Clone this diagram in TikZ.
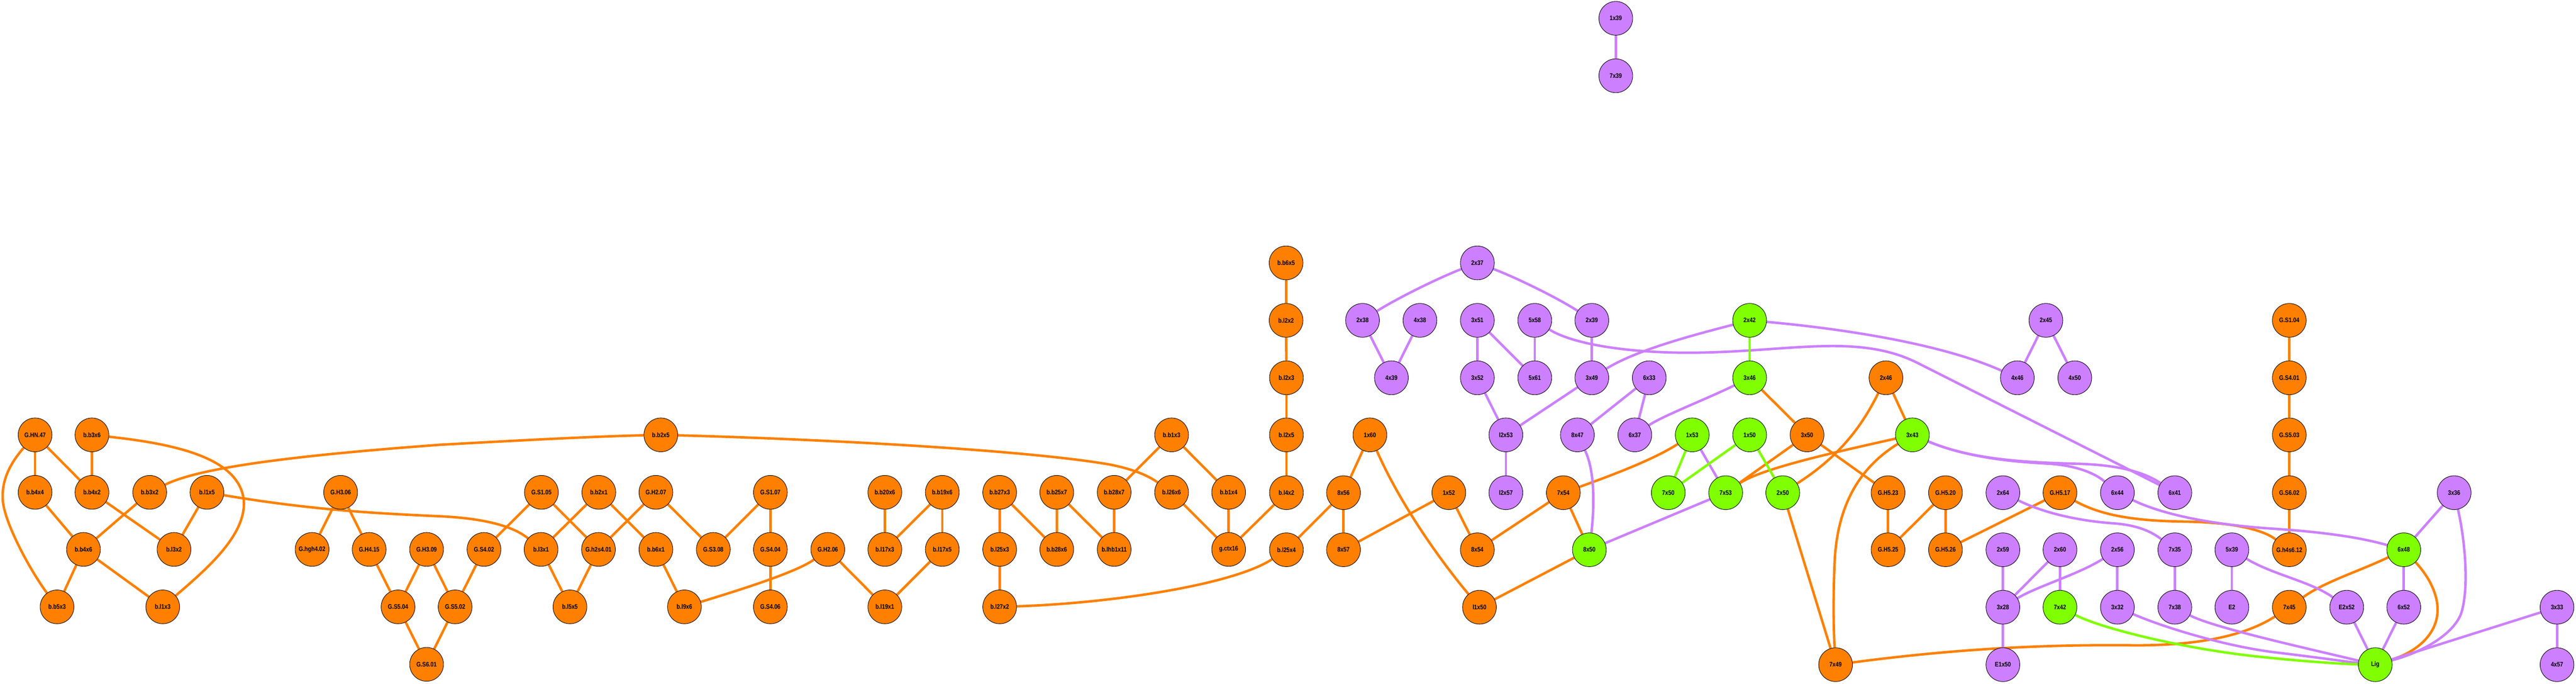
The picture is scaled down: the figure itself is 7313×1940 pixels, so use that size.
\documentclass[tikz,border=0pt]{standalone}
\usepackage{fontspec}
\setmainfont{Liberation Sans}
\usepackage{graphicx}
\usetikzlibrary{backgrounds}
\definecolor{cOr}{RGB}{255,128,0}
\definecolor{cPu}{RGB}{204,128,255}
\definecolor{cGr}{RGB}{128,255,0}
\newcommand{\lb}[1]{\scalebox{0.845}[1]{#1}}
\begin{document}
\begin{tikzpicture}[x=1pt,y=-1pt,
 nd/.style={circle,draw=black,line width=1.3pt,minimum size=96pt,inner sep=0pt,font=\fontsize{18.5}{20}\selectfont\bfseries},
 on/.style={nd,fill=cOr}, pn/.style={nd,fill=cPu}, gn/.style={nd,fill=cGr},
 oe/.style={draw=cOr,line width=7pt}, pe/.style={draw=cPu,line width=7pt}, ge/.style={draw=cGr,line width=7pt}]
\useasboundingbox (0,0) rectangle (7313,1940);
% ---------- orange nodes
\node[on] (GHN47) at (99.6,1234) {\lb{G.HN.47}};
\node[on] (bb3x6) at (261,1234) {\lb{b.b3x6}};
\node[on] (bb4x4) at (99.6,1397) {\lb{b.b4x4}};
\node[on] (bb4x2) at (261,1397) {\lb{b.b4x2}};
\node[on] (bb3x2) at (425,1397) {\lb{b.b3x2}};
\node[on] (bl1x5) at (587.5,1397) {\lb{b.l1x5}};
\node[on] (GH306) at (967,1397) {\lb{G.H3.06}};
\node[on] (bb4x6) at (237,1559) {\lb{b.b4x6}};
\node[on] (bl3x2) at (494,1559) {\lb{b.l3x2}};
\node[on] (Ghgh402) at (886,1559) {\lb{G.hgh4.02}};
\node[on] (GH415) at (1048,1559) {\lb{G.H4.15}};
\node[on] (GH309) at (1211,1559) {\lb{G.H3.09}};
\node[on] (bb5x3) at (162,1722) {\lb{b.b5x3}};
\node[on] (bl1x3) at (462,1722) {\lb{b.l1x3}};
\node[on] (GS504) at (1130,1722) {\lb{G.S5.04}};
\node[on] (GS601) at (1211,1885) {\lb{G.S6.01}};
\node[on] (bb2x5) at (1876,1234) {\lb{b.b2x5}};
\node[on] (GS105) at (1537,1397) {\lb{G.S1.05}};
\node[on] (bb2x1) at (1700,1397) {\lb{b.b2x1}};
\node[on] (GH207) at (1862,1397) {\lb{G.H2.07}};
\node[on] (GS107) at (2187,1397) {\lb{G.S1.07}};
\node[on] (GS402) at (1374,1559) {\lb{G.S4.02}};
\node[on] (bl3x1) at (1536,1559) {\lb{b.l3x1}};
\node[on] (Gh2s401) at (1699,1559) {\lb{G.h2s4.01}};
\node[on] (bb6x1) at (1862,1559) {\lb{b.b6x1}};
\node[on] (GS308) at (2025,1559) {\lb{G.S3.08}};
\node[on] (GS404) at (2187,1559) {\lb{G.S4.04}};
\node[on] (GH206) at (2350,1559) {\lb{G.H2.06}};
\node[on] (GS502) at (1292,1722) {\lb{G.S5.02}};
\node[on] (bl5x5) at (1618,1722) {\lb{b.l5x5}};
\node[on] (bl9x6) at (1943,1722) {\lb{b.l9x6}};
\node[on] (GS406) at (2187,1722) {\lb{G.S4.06}};
\node[on] (bb20x6) at (2512,1397) {\lb{b.b20x6}};
\node[on] (bb19x6) at (2675,1397) {\lb{b.b19x6}};
\node[on] (bb27x3) at (2838,1397) {\lb{b.b27x3}};
\node[on] (bb25x7) at (3000,1397) {\lb{b.b25x7}};
\node[on] (bb28x7) at (3163,1397) {\lb{b.b28x7}};
\node[on] (bl26x6) at (3326,1397) {\lb{b.l26x6}};
\node[on] (bb1x4) at (3488,1397) {\lb{b.b1x4}};
\node[on] (bb1x3) at (3326,1234) {\lb{b.b1x3}};
\node[on] (bl17x3) at (2512,1559) {\lb{b.l17x3}};
\node[on] (bl17x5) at (2675,1559) {\lb{b.l17x5}};
\node[on] (bl25x3) at (2838,1559) {\lb{b.l25x3}};
\node[on] (bb28x6) at (3000,1559) {\lb{b.b28x6}};
\node[on] (blhb1x11) at (3163,1559) {\lb{b.lhb1x11}};
\node[on] (gctx16) at (3488,1559) {\lb{g.ctx16}};
\node[on] (bl19x1) at (2512,1722) {\lb{b.l19x1}};
\node[on] (bl27x2) at (2838,1722) {\lb{b.l27x2}};
\node[on] (bb6x5) at (3651,746) {\lb{b.b6x5}};
\node[on] (bl2x2) at (3651,909) {\lb{b.l2x2}};
\node[on] (bl2x3) at (3652,1072) {\lb{b.l2x3}};
\node[on] (bl2x5) at (3652,1234) {\lb{b.l2x5}};
\node[on] (bl4x2) at (3652,1398) {\lb{b.l4x2}};
\node[on] (bl25x4) at (3652,1560) {\lb{b.l25x4}};
\node[on] (n1x60) at (3889,1234) {\lb{1x60}};
\node[on] (n8x56) at (3814,1398) {\lb{8x56}};
\node[on] (n1x52) at (4113,1398) {\lb{1x52}};
\node[on] (n7x54) at (4438,1398) {\lb{7x54}};
\node[on] (n8x57) at (3814,1560) {\lb{8x57}};
\node[on] (n8x54) at (4194,1560) {\lb{8x54}};
\node[on] (nl1x50) at (4200,1723) {\lb{l1x50}};
\node[on] (n2x46) at (5354,1072) {\lb{2x46}};
\node[on] (n3x50) at (5130,1234) {\lb{3x50}};
\node[on] (GH523) at (5360,1398) {\lb{G.H5.23}};
\node[on] (GH520) at (5523,1398) {\lb{G.H5.20}};
\node[on] (GH517) at (5848,1398) {\lb{G.H5.17}};
\node[on] (GH525) at (5360,1560) {\lb{G.H5.25}};
\node[on] (GH526) at (5523,1560) {\lb{G.H5.26}};
\node[on] (n7x49) at (5211,1886) {\lb{7x49}};
\node[on] (GS104) at (6499,909) {\lb{G.S1.04}};
\node[on] (GS401) at (6499,1072) {\lb{G.S4.01}};
\node[on] (GS503) at (6499,1234) {\lb{G.S5.03}};
\node[on] (GS602) at (6499,1398) {\lb{G.S6.02}};
\node[on] (Gh4s612) at (6499,1560) {\lb{G.h4s6.12}};
\node[on] (n7x45) at (6499,1723) {\lb{7x45}};
% ---------- purple nodes
\node[pn] (n1x39) at (4587,52) {\lb{1x39}};
\node[pn] (n7x39) at (4587,215) {\lb{7x39}};
\node[pn] (n2x37) at (4194,746) {\lb{2x37}};
\node[pn] (n2x38) at (3868,909) {\lb{2x38}};
\node[pn] (n4x38) at (4031,909) {\lb{4x38}};
\node[pn] (n3x51) at (4194,909) {\lb{3x51}};
\node[pn] (n5x58) at (4357,909) {\lb{5x58}};
\node[pn] (n2x39) at (4519,909) {\lb{2x39}};
\node[pn] (n2x45) at (5808,909) {\lb{2x45}};
\node[pn] (n4x39) at (3950,1072) {\lb{4x39}};
\node[pn] (n3x52) at (4194,1072) {\lb{3x52}};
\node[pn] (n5x61) at (4357,1072) {\lb{5x61}};
\node[pn] (n3x49) at (4519,1072) {\lb{3x49}};
\node[pn] (n6x33) at (4682,1072) {\lb{6x33}};
\node[pn] (n4x46) at (5727,1072) {\lb{4x46}};
\node[pn] (n4x50) at (5890,1072) {\lb{4x50}};
\node[pn] (nl2x53) at (4275,1234) {\lb{l2x53}};
\node[pn] (n8x47) at (4478,1234) {\lb{8x47}};
\node[pn] (n6x37) at (4641,1234) {\lb{6x37}};
\node[pn] (nl2x57) at (4275,1398) {\lb{l2x57}};
\node[pn] (n2x64) at (5686,1398) {\lb{2x64}};
\node[pn] (n6x44) at (6011,1398) {\lb{6x44}};
\node[pn] (n6x41) at (6174,1398) {\lb{6x41}};
\node[pn] (n3x36) at (6967,1398) {\lb{3x36}};
\node[pn] (n2x59) at (5686,1560) {\lb{2x59}};
\node[pn] (n2x60) at (5848,1560) {\lb{2x60}};
\node[pn] (n2x56) at (6011,1560) {\lb{2x56}};
\node[pn] (n7x35) at (6174,1560) {\lb{7x35}};
\node[pn] (n5x39) at (6336,1560) {\lb{5x39}};
\node[pn] (n3x28) at (5686,1723) {\lb{3x28}};
\node[pn] (n3x32) at (6011,1723) {\lb{3x32}};
\node[pn] (n7x38) at (6174,1723) {\lb{7x38}};
\node[pn] (nE2) at (6336,1723) {\lb{E2}};
\node[pn] (nE2x52) at (6662,1723) {\lb{E2x52}};
\node[pn] (n6x52) at (6824,1723) {\lb{6x52}};
\node[pn] (n3x33) at (7259,1723) {\lb{3x33}};
\node[pn] (nE1x50) at (5686,1886) {\lb{E1x50}};
\node[pn] (n4x57) at (7259,1886) {\lb{4x57}};
% ---------- green nodes
\node[gn] (n2x42) at (4967,909) {\lb{2x42}};
\node[gn] (n3x46) at (4967,1072) {\lb{3x46}};
\node[gn] (n1x53) at (4804,1234) {\lb{1x53}};
\node[gn] (n1x50) at (4967,1234) {\lb{1x50}};
\node[gn] (n3x43) at (5429,1234) {\lb{3x43}};
\node[gn] (n7x50) at (4736,1398) {\lb{7x50}};
\node[gn] (n7x53) at (4899,1398) {\lb{7x53}};
\node[gn] (n2x50) at (5061,1398) {\lb{2x50}};
\node[gn] (n8x50) at (4512,1560) {\lb{8x50}};
\node[gn] (n7x42) at (5848,1723) {\lb{7x42}};
\node[gn] (n6x48) at (6824,1560) {\lb{6x48}};
\node[gn] (Lig) at (6743,1886) {\lb{Lig}};
% ---------- edges
\begin{pgfonlayer}{background}
% orange
\draw[oe] (GHN47) -- (bb4x4);
\draw[oe] (GHN47) -- (bb4x2);
\draw[oe] (GHN47) .. controls (15,1330) and (5,1380) .. (8,1420) .. controls (12,1480) and (80,1610) .. (bb5x3);
\draw[oe] (bb3x6) -- (bb4x2);
\draw[oe] (bb3x6) .. controls (500,1260) and (680,1300) .. (692,1420) .. controls (700,1520) and (580,1620) .. (bl1x3);
\draw[oe] (bb4x4) -- (bb4x6);
\draw[oe] (bb4x2) -- (bl3x2);
\draw[oe] (bb3x2) -- (bb4x6);
\draw[oe] (bb3x2) .. controls (560,1330) and (800,1295) .. (1250,1262) .. controls (1500,1248) and (1700,1238) .. (bb2x5);
\draw[oe] (bl1x5) -- (bl3x2);
\draw[oe] (bl1x5) .. controls (900,1450) and (1100,1458) .. (1250,1465) .. controls (1380,1471) and (1460,1495) .. (bl3x1);
\draw[oe] (bb4x6) -- (bb5x3);
\draw[oe] (bb4x6) -- (bl1x3);
\draw[oe] (GH306) -- (Ghgh402);
\draw[oe] (GH306) -- (GH415);
\draw[oe] (GH415) -- (GS504);
\draw[oe] (GH309) -- (GS504);
\draw[oe] (GH309) -- (GS502);
\draw[oe] (GS504) -- (GS601);
\draw[oe] (GS502) -- (GS601);
\draw[oe] (GS402) -- (GS502);
\draw[oe] (GS105) -- (GS402);
\draw[oe] (GS105) -- (Gh2s401);
\draw[oe] (bb2x1) -- (bl3x1);
\draw[oe] (bb2x1) -- (bb6x1);
\draw[oe] (GH207) -- (Gh2s401);
\draw[oe] (GH207) -- (GS308);
\draw[oe] (GS107) -- (GS308);
\draw[oe] (GS107) -- (GS404);
\draw[oe] (GS404) -- (GS406);
\draw[oe] (bl3x1) -- (bl5x5);
\draw[oe] (Gh2s401) -- (bl5x5);
\draw[oe] (bb6x1) -- (bl9x6);
\draw[oe] (GH206) .. controls (2260,1625) and (2080,1680) .. (bl9x6);
\draw[oe] (GH206) -- (bl19x1);
\draw[oe] (bb2x5) .. controls (2300,1245) and (2900,1275) .. (3150,1318) .. controls (3220,1332) and (3260,1350) .. (bl26x6);
\draw[oe] (bb20x6) -- (bl17x3);
\draw[oe] (bb19x6) -- (bl17x3);
\draw[oe] (bb19x6) -- (bl17x5);
\draw[oe] (bl17x5) -- (bl19x1);
\draw[oe] (bb27x3) -- (bl25x3);
\draw[oe] (bb27x3) -- (bb28x6);
\draw[oe] (bb25x7) -- (bb28x6);
\draw[oe] (bb25x7) -- (blhb1x11);
\draw[oe] (bb28x7) -- (blhb1x11);
\draw[oe] (bb1x3) -- (bb28x7);
\draw[oe] (bb1x3) -- (bb1x4);
\draw[oe] (bl26x6) -- (gctx16);
\draw[oe] (bb1x4) -- (gctx16);
\draw[oe] (bl4x2) -- (gctx16);
\draw[oe] (bl25x3) -- (bl27x2);
\draw[oe] (bl27x2) .. controls (3150,1712) and (3500,1660) .. (bl25x4);
\draw[oe] (bb6x5) -- (bl2x2);
\draw[oe] (bl2x2) -- (bl2x3);
\draw[oe] (bl2x3) -- (bl2x5);
\draw[oe] (bl2x5) -- (bl4x2);
\draw[oe] (bl25x4) -- (n8x56);
\draw[oe] (n8x56) -- (n1x60);
\draw[oe] (n8x56) -- (n8x57);
\draw[oe] (n1x60) .. controls (3970,1420) and (4080,1580) .. (nl1x50);
\draw[oe] (n1x52) -- (n8x57);
\draw[oe] (n1x52) -- (n8x54);
\draw[oe] (n7x54) -- (n8x54);
\draw[oe] (n7x54) -- (n8x50);
\draw[oe] (n7x54) .. controls (4600,1340) and (4700,1300) .. (n1x53);
\draw[oe] (n8x50) -- (nl1x50);
\draw[oe] (n3x46) -- (n3x50);
\draw[oe] (n3x50) -- (n7x53);
\draw[oe] (n3x50) -- (GH523);
\draw[oe] (n3x43) .. controls (5200,1285) and (5000,1330) .. (n7x53);
\draw[oe] (n2x46) .. controls (5290,1200) and (5230,1290) .. (n2x50);
\draw[oe] (n2x46) -- (n3x43);
\draw[oe] (n3x43) .. controls (5290,1320) and (5215,1420) .. (5208,1600) .. controls (5204,1700) and (5205,1780) .. (n7x49);
\draw[oe] (n2x50) -- (n7x49);
\draw[oe] (n7x49) .. controls (5500,1848) and (5750,1828) .. (6050,1831) .. controls (6250,1833) and (6380,1800) .. (n7x45);
\draw[oe] (GH523) -- (GH525);
\draw[oe] (GH520) -- (GH525);
\draw[oe] (GH520) -- (GH526);
\draw[oe] (GH517) -- (GH526);
\draw[oe] (GH517) .. controls (5960,1460) and (6050,1478) .. (6200,1480) .. controls (6330,1482) and (6420,1500) .. (Gh4s612);
\draw[oe] (GS104) -- (GS401);
\draw[oe] (GS401) -- (GS503);
\draw[oe] (GS503) -- (GS602);
\draw[oe] (GS602) -- (Gh4s612);
\draw[oe] (n6x48) .. controls (6700,1620) and (6600,1650) .. (n7x45);
\draw[oe] (n6x48) .. controls (6890,1630) and (6920,1680) .. (6920,1730) .. controls (6920,1800) and (6860,1850) .. (Lig);
% purple
\draw[pe] (n1x39) -- (n7x39);
\draw[pe] (n2x37) .. controls (4080,790) and (3960,850) .. (n2x38);
\draw[pe] (n2x37) .. controls (4310,790) and (4430,850) .. (n2x39);
\draw[pe] (n2x38) -- (n4x39);
\draw[pe] (n4x38) -- (n4x39);
\draw[pe] (n3x51) -- (n3x52);
\draw[pe] (n3x51) -- (n5x61);
\draw[pe] (n5x58) -- (n5x61);
\draw[pe] (n5x58) .. controls (4470,980) and (4650,1006) .. (4850,1000) .. controls (5100,993) and (5280,950) .. (5440,1028) -- (n6x41);
\draw[pe] (n2x39) -- (n3x49);
\draw[pe] (n3x52) -- (nl2x53);
\draw[pe] (n3x49) -- (nl2x53);
\draw[pe] (nl2x53) -- (nl2x57);
\draw[pe] (n6x33) -- (n8x47);
\draw[pe] (n6x33) -- (n6x37);
\draw[pe] (n8x47) .. controls (4530,1340) and (4525,1450) .. (n8x50);
\draw[pe] (n6x37) .. controls (4720,1180) and (4850,1130) .. (n3x46);
\draw[pe] (n2x42) .. controls (4830,945) and (4650,990) .. (n3x49);
\draw[pe] (n2x42) .. controls (5200,930) and (5500,970) .. (n4x46);
\draw[pe] (n2x45) -- (n4x46);
\draw[pe] (n2x45) -- (n4x50);
\draw[pe] (n1x53) -- (n7x53);
\draw[pe] (n7x53) -- (n8x50);
\draw[pe] (n3x43) .. controls (5600,1305) and (5750,1312) .. (5820,1316) .. controls (5900,1322) and (5950,1345) .. (n6x44);
\draw[pe] (n3x43) .. controls (5600,1305) and (5750,1312) .. (5900,1316) .. controls (6000,1319) and (6080,1335) .. (n6x41);
\draw[pe] (n6x44) .. controls (6150,1465) and (6300,1490) .. (6450,1500) .. controls (6600,1510) and (6700,1525) .. (n6x48);
\draw[pe] (n2x64) .. controls (5800,1455) and (5900,1478) .. (6000,1485) .. controls (6070,1490) and (6110,1510) .. (n7x35);
\draw[pe] (n2x59) -- (n3x28);
\draw[pe] (n2x60) -- (n3x28);
\draw[pe] (n2x60) -- (n7x42);
\draw[pe] (n2x56) .. controls (5900,1630) and (5780,1665) .. (n3x28);
\draw[pe] (n2x56) -- (n3x32);
\draw[pe] (n3x28) -- (nE1x50);
\draw[pe] (n3x32) .. controls (6130,1775) and (6300,1830) .. (6450,1850) .. controls (6600,1868) and (6680,1880) .. (Lig);
\draw[pe] (n7x35) -- (n7x38);
\draw[pe] (n7x38) .. controls (6280,1780) and (6550,1840) .. (Lig);
\draw[pe] (n5x39) -- (nE2);
\draw[pe] (n5x39) .. controls (6450,1630) and (6560,1650) .. (nE2x52);
\draw[pe] (nE2x52) -- (Lig);
\draw[pe] (n6x52) -- (Lig);
\draw[pe] (n6x48) -- (n6x52);
\draw[pe] (n3x36) -- (n6x48);
\draw[pe] (n3x36) .. controls (6995,1520) and (7010,1650) .. (6990,1730) .. controls (6975,1795) and (6880,1850) .. (Lig);
\draw[pe] (n3x33) -- (Lig);
\draw[pe] (n3x33) -- (n4x57);
% green
\draw[ge] (n2x42) -- (n3x46);
\draw[ge] (n1x53) -- (n7x50);
\draw[ge] (n7x50) -- (n1x50);
\draw[ge] (n1x50) -- (n2x50);
\draw[ge] (n7x42) .. controls (5970,1785) and (6200,1840) .. (6400,1862) .. controls (6550,1878) and (6650,1884) .. (Lig);
\end{pgfonlayer}
\end{tikzpicture}
\end{document}
